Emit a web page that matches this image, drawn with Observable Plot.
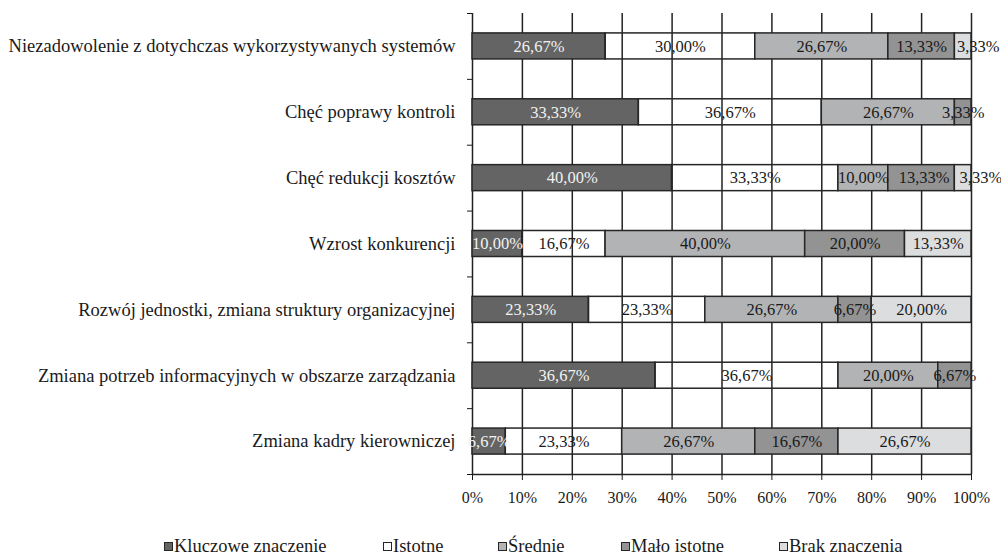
<!DOCTYPE html>
<html>
<head>
<meta charset="utf-8">
<script src="https://cdn.jsdelivr.net/npm/d3@7"></script>
<script src="https://cdn.jsdelivr.net/npm/@observablehq/plot@0.6"></script>
<style>
  body { margin: 0; background: #fff; font-family: "Liberation Serif", "Times New Roman", serif; color: #1a1a1a; }
  #legend { position: relative; height: 24px; margin-top: 4px; font-size: 18.5px; line-height: 24px; }
  .item { position: absolute; top: 0; display: flex; align-items: center; white-space: nowrap; }
  .sw { width: 7px; height: 7px; border: 1px solid #262626; margin-right: 1px; }
</style>
</head>
<body>
<div id="chart"></div>
<div id="legend"></div>
<script>
const categories = [
  "Niezadowolenie z dotychczas wykorzystywanych systemów",
  "Chęć poprawy kontroli",
  "Chęć redukcji kosztów",
  "Wzrost konkurencji",
  "Rozwój jednostki, zmiana struktury organizacyjnej",
  "Zmiana potrzeb informacyjnych w obszarze zarządzania",
  "Zmiana kadry kierowniczej"
];
const series = ["Kluczowe znaczenie", "Istotne", "Średnie", "Mało istotne", "Brak znaczenia"];
const kluczowe = [26.67, 33.33, 40.00, 10.00, 23.33, 36.67, 6.67];
const istotne  = [30.00, 36.67, 33.33, 16.67, 23.33, 36.67, 23.33];
const srednie  = [26.67, 26.67, 10.00, 40.00, 26.67, 20.00, 26.67];
const maloIstotne = [13.33, 3.33, 13.33, 20.00, 6.67, 6.67, 16.67];
const brak     = [3.33, 0, 3.33, 13.33, 20.00, 0, 26.67];
const xTicks = [0, 10, 20, 30, 40, 50, 60, 70, 80, 90, 100];
const colors = ["#646464", "none", "#b2b3b5", "#939393", "#dcdddf"];
const legendColors = ["#646464", "#ffffff", "#b2b3b5", "#939393", "#dcdddf"];
const legendLeft = [164, 383, 498, 621, 779];

const W = 1001, ML = 472, MR = 30;
const pxPerUnit = (W - ML - MR) / 100;
const fmt = v => v.toFixed(2).replace(".", ",") + "%";
const labelWidth = s => s.replace(/[^0-9]/g, "").length * 8.25 + 4.1 + 13.7;

const seriesValues = [kluczowe, istotne, srednie, maloIstotne, brak];
const rows = [];
categories.forEach((cat, idx) => {
  let acc = 0;
  let prevRight = -Infinity;
  series.forEach((s, k) => {
    const v = seriesValues[k][idx];
    const row = {cat, idx, series: s, value: v, x1: acc, x2: acc + v, lx: acc + v / 2};
    if (v > 0) {
      // like the spreadsheet, nudge a label right when it would collide with the previous one
      const w = labelWidth(fmt(v));
      const center = row.lx * pxPerUnit;
      let left = center - w / 2;
      if (left < prevRight + 10) {
        const shift = prevRight + 10 - left;
        row.lx += shift / pxPerUnit;
        left += shift;
      }
      prevRight = left + w;
    }
    rows.push(row);
    acc += v;
  });
});
const shown = rows.filter(d => d.value > 0);

const chart = Plot.plot({
  width: W,
  height: 530,
  marginTop: 13,
  marginBottom: 56,
  marginLeft: ML,
  marginRight: MR,
  x: {domain: [0, 100]},
  y: {domain: [0, categories.length], reverse: true},
  color: {type: "ordinal", domain: series, range: colors},
  style: {fontFamily: "'Liberation Serif', 'Times New Roman', serif", fontSize: "16px", color: "#1a1a1a", background: "#fff"},
  marks: [
    Plot.ruleX(xTicks, {stroke: "#222", strokeWidth: 1.5}),
    Plot.ruleY([categories.length], {stroke: "#222", strokeWidth: 1.5}),
    Plot.rect(shown, {
      x1: "x1", x2: "x2",
      y1: d => d.idx + 0.3025, y2: d => d.idx + 0.6975,
      fill: "series", stroke: "#262626", strokeWidth: 1.5
    }),
    Plot.text(shown, {
      x: "lx", y: d => d.idx + 0.5,
      text: d => fmt(d.value),
      fill: d => d.series === series[0] ? "#f2f2f2" : "#1a1a1a",
      fontSize: 16.5
    }),
    Plot.axisX({ticks: xTicks, tickFormat: d => d + "%", tickSize: 6, tickPadding: 11, fontSize: 16, label: null}),
    Plot.axisY({ticks: d3.range(0, categories.length + 1), tickFormat: () => "", tickSize: 5, label: null}),
    Plot.axisY({ticks: categories.map((c, i) => i + 0.5), tickFormat: d => categories[Math.floor(d)], tickSize: 0, tickPadding: 17, fontSize: 18.5, label: null})
  ]
});
document.getElementById("chart").appendChild(chart);

const legend = document.getElementById("legend");
series.forEach((s, k) => {
  const item = document.createElement("div");
  item.className = "item";
  item.style.left = legendLeft[k] + "px";
  const sw = document.createElement("span");
  sw.className = "sw";
  sw.style.background = legendColors[k];
  const t = document.createElement("span");
  t.textContent = s;
  item.appendChild(sw);
  item.appendChild(t);
  legend.appendChild(item);
});
</script>
</body>
</html>
